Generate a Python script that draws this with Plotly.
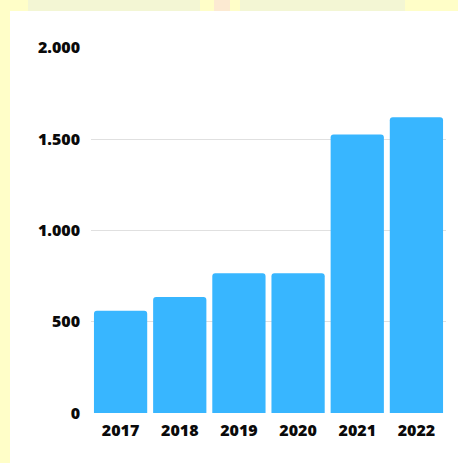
import plotly.graph_objects as go

# Yearly totals
years = ["2017", "2018", "2019", "2020", "2021", "2022"]
values = [560, 635, 765, 765, 1525, 1620]
tick_vals = [0, 500, 1000, 1500, 2000]
tick_text = ["0", "500", "1.000", "1.500", "2.000"]

W, H = 458, 463
ML, MR, MT, MB = 91, 12, 47, 50
pw, ph = W - ML - MR, H - MT - MB

def px_x(x):
    return (x - ML) / pw

def px_y(y):
    return (H - MB - y) / ph

def px_rect(x0, y0, x1, y1, color):
    return dict(type="rect", xref="paper", yref="paper",
                x0=px_x(x0), x1=px_x(x1), y0=px_y(y1), y1=px_y(y0),
                fillcolor=color, line=dict(width=0), layer="below")

fig = go.Figure(
    go.Bar(
        x=years,
        y=values,
        marker=dict(color="#38B6FF", line=dict(width=0), cornerradius=3),
        hoverinfo="skip",
    )
)

font = dict(family="Open Sans", size=16, color="#0A0A0A", weight=800)

shapes = [
    # faint backdrop pattern peeking above the card
    px_rect(28, -2, 200, 11, "#F3F6D4"),
    px_rect(240, -2, 405, 11, "#F3F6D4"),
    px_rect(214, -2, 230, 11, "#FCEAD2"),
    # white card behind the chart
    px_rect(10, 11, W + 2, H + 2, "white"),
]

fig.update_layout(
    width=W,
    height=H,
    margin=dict(l=ML, r=MR, t=MT, b=MB),
    paper_bgcolor="#FFFEC8",
    plot_bgcolor="rgba(0,0,0,0)",
    bargap=0.1,
    showlegend=False,
    separators=",.",
    shapes=shapes,
)
fig.update_xaxes(
    type="category",
    tickfont=font,
    showgrid=False,
    showline=False,
    ticks="",
    ticklabelstandoff=6,
)
fig.update_yaxes(
    range=[0, 2004],
    tickvals=tick_vals,
    ticktext=tick_text,
    tickfont=font,
    showgrid=True,
    gridcolor="#E0E0E0",
    gridwidth=1,
    zeroline=False,
    showline=False,
    ticks="",
    ticklabelstandoff=10,
)

fig.write_html("out.html")
